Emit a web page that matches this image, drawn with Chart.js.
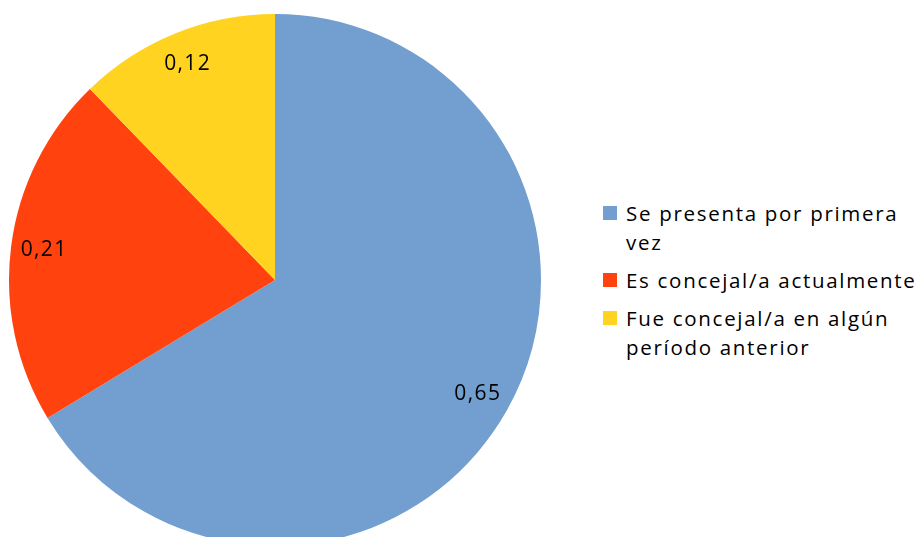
<!DOCTYPE html>
<html>
<head>
<meta charset="utf-8">
<script src="https://cdn.jsdelivr.net/npm/chart.js@4"></script>
<style>
  html, body { margin: 0; padding: 0; background: #fff; overflow: hidden; }
  #wrap { position: relative; width: 917px; height: 537px; overflow: hidden; }
  #chartBox { position: absolute; left: 0; top: 0; width: 550px; height: 560px; }
  #legend { position: absolute; left: 603px; top: 199px; width: 318px;
    font-family: "Open Sans", sans-serif; font-size: 20.5px; letter-spacing: 1.7px; color: #000; }
  .item { position: relative; padding-left: 23px; line-height: 29px; margin-bottom: 9px; }
  .box { position: absolute; left: 0; top: 7px; width: 14px; height: 14px; }
</style>
</head>
<body>
<div id="wrap">
  <div id="chartBox"><canvas id="pie"></canvas></div>
  <div id="legend"></div>
</div>
<script>
const labels = ['Se presenta por primera vez', 'Es concejal/a actualmente', 'Fue concejal/a en algún período anterior'];
const values = [0.65, 0.21, 0.12];
const colors = ['#729fcf', '#ff420e', '#ffd320'];

// value labels near the outer edge of each slice
const valueLabels = {
  id: 'valueLabels',
  afterDatasetsDraw(chart) {
    const ctx = chart.ctx;
    const meta = chart.getDatasetMeta(0);
    ctx.save();
    ctx.font = '21px "Open Sans", sans-serif';
    ctx.letterSpacing = '1.4px';
    ctx.fillStyle = '#000';
    ctx.textAlign = 'center';
    ctx.textBaseline = 'middle';
    meta.data.forEach((arc, i) => {
      const p = arc.getProps(['x', 'y', 'startAngle', 'endAngle', 'outerRadius']);
      const mid = (p.startAngle + p.endAngle) / 2;
      const r = p.outerRadius * 0.875;
      const txt = values[i].toFixed(2).replace('.', ',');
      ctx.fillText(txt, p.x + Math.cos(mid) * r, p.y + Math.sin(mid) * r);
    });
    ctx.restore();
  }
};

new Chart(document.getElementById('pie'), {
  type: 'pie',
  data: {
    labels: labels,
    datasets: [{
      data: values,
      backgroundColor: colors,
      borderWidth: 0
    }]
  },
  options: {
    responsive: true,
    maintainAspectRatio: false,
    animation: false,
    layout: { padding: { left: 9, right: 9, top: 14, bottom: 14 } },
    plugins: {
      legend: { display: false },
      tooltip: { enabled: false }
    }
  },
  plugins: [valueLabels]
});

// legend with wrapped text, built from the same arrays
const legend = document.getElementById('legend');
labels.forEach((l, i) => {
  const d = document.createElement('div');
  d.className = 'item';
  d.innerHTML = '<span class="box" style="background:' + colors[i] + '"></span>' + l;
  legend.appendChild(d);
});
</script>
</body>
</html>
